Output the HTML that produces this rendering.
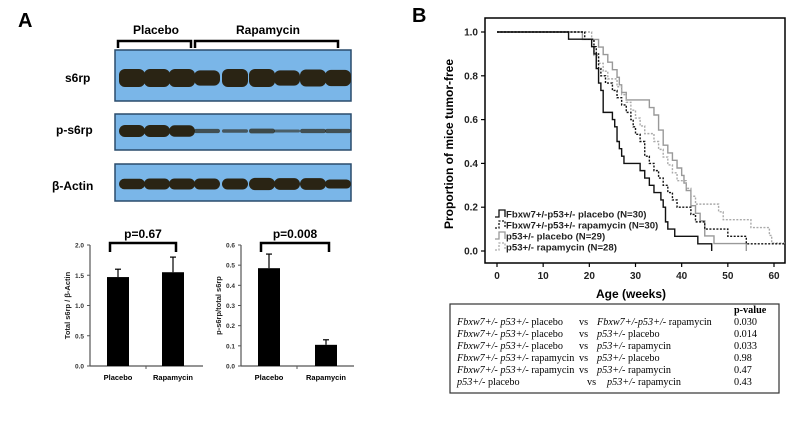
<!DOCTYPE html>
<html><head><meta charset="utf-8"><style>
body{margin:0;background:#fff}
svg{display:block}
.b{font-family:"Liberation Sans",sans-serif;font-weight:bold}
.s{font-family:"Liberation Serif",serif;font-size:10.2px}
</style></head><body>
<svg id="fig" width="800" height="422" viewBox="0 0 800 422" xmlns="http://www.w3.org/2000/svg">
<text x="18" y="27" class="b" font-size="20">A</text>
<text x="156" y="34" class="b" font-size="12" text-anchor="middle">Placebo</text>
<text x="268" y="34" class="b" font-size="12" text-anchor="middle">Rapamycin</text>
<path d="M118,48 V41 H191 V48" fill="none" stroke="#000" stroke-width="2.5"/>
<path d="M195,48 V41 H338 V48" fill="none" stroke="#000" stroke-width="2.5"/>
<text x="65" y="82" class="b" font-size="12">s6rp</text>
<text x="56" y="134" class="b" font-size="12">p-s6rp</text>
<text x="52" y="190" class="b" font-size="12">β-Actin</text>
<g id="blots"></g>
<g id="bars1"></g>
<g id="bars2"></g>
<text x="412" y="22" class="b" font-size="20">B</text>
<rect x="485" y="18" width="300" height="245" fill="none" stroke="#000" stroke-width="1.5"/>
<g id="km"></g>
<text x="631" y="298" class="b" font-size="12" text-anchor="middle">Age (weeks)</text>
<text transform="translate(453,144) rotate(-90)" class="b" font-size="12" text-anchor="middle">Proportion of mice tumor-free</text>
<g id="legend"></g>
<rect x="450" y="304" width="329" height="89" fill="none" stroke="#333" stroke-width="1.2"/>
<g id="tbl" class="s"></g>
</svg>
<script>
const NS="http://www.w3.org/2000/svg";
function mk(tag,attrs,parent,text){const e=document.createElementNS(NS,tag);for(const k in attrs)e.setAttribute(k,attrs[k]);if(text!==undefined)e.textContent=text;parent.appendChild(e);return e;}

const laneX=[132,157,182,207,235,262,287,313,338];
const s6rpInt=[1,1,1,0.85,1,1,0.85,0.95,0.9];
const ps6rpInt=[1,1,0.95,0.35,0.3,0.4,0.25,0.35,0.35];
const actinInt=[0.8,0.85,0.85,0.85,0.85,0.95,0.9,0.9,0.7];
const blotG=document.getElementById('blots');
const panels=[{y:50,h:51,by:78,vals:s6rpInt,name:'s6rp-blot',bh:9},{y:114,h:36,by:131,vals:ps6rpInt,name:'p-s6rp-blot',bh:6},{y:164,h:37,by:184,vals:actinInt,name:'beta-actin-blot',bh:6.5}];
panels.forEach(p=>{
  const g=mk('g',{},blotG);
  
  
  mk('rect',{x:115,y:p.y,width:236,height:p.h,fill:'#7ab6e8',stroke:'#2a4c6c','stroke-width':1.5},g);
  p.vals.forEach((v,i)=>{
    const hh=Math.max(2.5,p.bh*v*2);
    const band=mk('rect',{x:laneX[i]-13,y:p.by-hh/2,width:26,height:hh,rx:Math.min(6,hh/2),fill:'#2a2414',opacity:Math.min(1,0.35+v)},g);
    
    
  });
});

const barCats=['Placebo','Rapamycin'];
const s6Vals=[1.47,1.55];
const s6Err=[0.13,0.25];
const s6Ticks=['0.0','0.5','1.0','1.5','2.0'];
const pVals=[0.485,0.105];
const pErr=[0.07,0.025];
const pTicks=['0.0','0.1','0.2','0.3','0.4','0.5','0.6'];
function barChart(gid,axX,ymax,ticks,vals,errs,ytitle,ptext,barXs,name){
  const g=document.getElementById(gid);
  
  
  const y0=366,y1=245;
  const sy=v=>y0-(v/ymax)*(y0-y1);
  mk('line',{x1:axX,y1:y1,x2:axX,y2:y0,stroke:'#555','stroke-width':1.2},g);
  mk('line',{x1:axX,y1:y0,x2:axX+113,y2:y0,stroke:'#555','stroke-width':1.2},g);
  ticks.forEach(t=>{const v=parseFloat(t);
    mk('line',{x1:axX-3,y1:sy(v),x2:axX,y2:sy(v),stroke:'#555'},g);
    const tl=mk('text',{x:axX-6,y:sy(v)+2.5,'text-anchor':'end','font-size':6.5,class:'b',fill:'#333'},g,t);
    
    
  });
  mk('line',{x1:axX+56,y1:y0,x2:axX+56,y2:y0+3,stroke:'#555'},g);
  vals.forEach((v,i)=>{
    const cx=barXs[i];
    const r=mk('rect',{x:cx-11,y:sy(v),width:22,height:y0-sy(v),fill:'#000'},g);
    
    
    mk('line',{x1:cx,y1:sy(v),x2:cx,y2:sy(v+errs[i]),stroke:'#000','stroke-width':1.2},g);
    mk('line',{x1:cx-3,y1:sy(v+errs[i]),x2:cx+3,y2:sy(v+errs[i]),stroke:'#000','stroke-width':1.2},g);
    const xl=mk('text',{x:cx,y:380,'text-anchor':'middle','font-size':7.5,class:'b'},g,barCats[i]);
    
    
  });
  const yt=mk('text',{transform:`translate(${axX-20},${(y0+y1)/2}) rotate(-90)`,'text-anchor':'middle','font-size':7.5,class:'b',fill:'#222'},g,ytitle);
  
  
  const bx1=barXs[0]-8,bx2=barXs[1]+3;
  const br=mk('path',{d:`M${bx1},252 V243 H${bx2} V252`,fill:'none',stroke:'#000','stroke-width':2.5},g);
  
  
  const pt=mk('text',{x:(bx1+bx2)/2,y:238,'text-anchor':'middle','font-size':12,class:'b'},g,ptext);
  
  
}
barChart('bars1',90,2.0,s6Ticks,s6Vals,s6Err,'Total s6rp / β-Actin','p=0.67',[118,173],'total-s6rp-bar-chart');
barChart('bars2',241,0.6,pTicks,pVals,pErr,'p-s6rp/total s6rp','p=0.008',[269,326],'p-s6rp-bar-chart');

const xTicks=[0,10,20,30,40,50,60];
const yTicks=[0.0,0.2,0.4,0.6,0.8,1.0];
const t1=[0,15.5,20.5,21,21.5,22,22.5,23,25,25.5,26,26.5,27,27.5,31,32,33,34,35.5,36,36.5,37,38.5,43.5,46.5];
const s1=[1,0.967,0.933,0.9,0.833,0.767,0.733,0.633,0.6,0.567,0.5,0.467,0.433,0.4,0.367,0.333,0.3,0.267,0.233,0.2,0.133,0.1,0.067,0.033,0];
const t2=[0,19,21,21.5,22,22.5,23.5,25,26,27,28,29,29.5,30,31,32,33,34,35,36,37,38,39,42,43,45,50,54,62.5];
const s2=[1,0.967,0.933,0.9,0.833,0.8,0.767,0.733,0.7,0.667,0.633,0.6,0.567,0.533,0.5,0.433,0.4,0.367,0.333,0.3,0.267,0.233,0.2,0.167,0.133,0.1,0.067,0.033,0.033];
const t3=[0,18.5,22,23,24,25,26,26.5,27,28,33,34,35,36,37,38,39,40,40.5,41,42,43,44,45,47,54];
const s3=[1,0.966,0.931,0.897,0.862,0.828,0.793,0.759,0.724,0.69,0.655,0.621,0.552,0.483,0.448,0.414,0.379,0.345,0.31,0.276,0.207,0.172,0.138,0.069,0.034,0];
const t4=[0,20.5,21,22,23,24,26,27,28,29,30,31,32,34,35,36,37,38,39,41,42,43,48,49,55,59,59.5,62.5];
const s4=[1,0.964,0.893,0.857,0.821,0.786,0.75,0.714,0.679,0.643,0.607,0.571,0.536,0.5,0.464,0.429,0.393,0.357,0.321,0.286,0.25,0.214,0.179,0.143,0.107,0.071,0.036,0.036];
const seriesNames=['Fbxw7+/-p53+/- placebo (N=30)','Fbxw7+/-p53+/- rapamycin (N=30)','p53+/- placebo (N=29)','p53+/- rapamycin (N=28)'];
const kmX=w=>497+w*(774-497)/60;
const kmY=v=>251-v*(251-32);
const km=document.getElementById('km');
xTicks.forEach(t=>{
  mk('line',{x1:kmX(t),y1:263,x2:kmX(t),y2:267,stroke:'#000','stroke-width':1.2},km);
  const l=mk('text',{x:kmX(t),y:279,'text-anchor':'middle','font-size':10,class:'b',fill:'#222'},km,t);
  
  
});
yTicks.forEach(t=>{
  mk('line',{x1:481,y1:kmY(t),x2:485,y2:kmY(t),stroke:'#000','stroke-width':1.2},km);
  const l=mk('text',{x:478,y:kmY(t)+3.5,'text-anchor':'end','font-size':10,class:'b',fill:'#222'},km,t.toFixed(1));
  
  
});
const styles=[{c:'#111',d:''},{c:'#111',d:'2,1.5'},{c:'#999',d:''},{c:'#aaa',d:'2,1.5'}];
function stepPath(t,s){let d=`M${kmX(t[0])},${kmY(s[0])}`;for(let i=1;i<t.length;i++){d+=` H${kmX(t[i])} V${kmY(s[i])}`;}return d;}
[[t3,s3,2],[t4,s4,3],[t2,s2,1],[t1,s1,0]].forEach(([t,s,k])=>{
  const p=mk('path',{d:stepPath(t,s),fill:'none',stroke:styles[k].c,'stroke-width':1.4,'stroke-dasharray':styles[k].d},km);
  
  
});
const lg=document.getElementById('legend');
seriesNames.forEach((n,i)=>{
  const y=214+i*11;
  const g=mk('g',{},lg);
  
  
  mk('path',{d:`M495,${y+3} H499 V${y-4} H505 V${y+3}`,fill:'none',stroke:styles[i].c,'stroke-width':1.3,'stroke-dasharray':styles[i].d},g);
  mk('text',{x:506,y:y+3.5,'font-size':9.6,class:'b',fill:'#222'},g,n);
});

const rowsA=['Fbxw7+/- p53+/- placebo','Fbxw7+/- p53+/- placebo','Fbxw7+/- p53+/- placebo','Fbxw7+/- p53+/- rapamycin','Fbxw7+/- p53+/- rapamycin','p53+/- placebo'];
const rowsB=['Fbxw7+/-p53+/- rapamycin','p53+/- placebo','p53+/- rapamycin','p53+/- placebo','p53+/- rapamycin','p53+/- rapamycin'];
const pvals=['0.030','0.014','0.033','0.98','0.47','0.43'];
const tb=document.getElementById('tbl');
const h=mk('text',{x:734,y:313,'font-weight':'bold'},tb,'p-value');


function richText(x,y,str){
  const t=mk('text',{x:x,y:y},tb);
  const m=str.match(/^(.*\+\/-)(\s.*)$/);
  mk('tspan',{'font-style':'italic'},t,m?m[1]:'');
  mk('tspan',{},t,m?m[2]:str);
  return t;
}
rowsA.forEach((a,i)=>{
  const y=325+i*12;
  const last=i===5;
  const ta=richText(457,y,a);
  
  
  const vs=mk('text',{x:last?587:579,y:y},tb,'vs');
  
  
  const tbx=richText(last?607:597,y,rowsB[i]);
  
  
  const pv=mk('text',{x:734,y:y},tb,pvals[i]);
  
  
});
</script>
</body></html>
